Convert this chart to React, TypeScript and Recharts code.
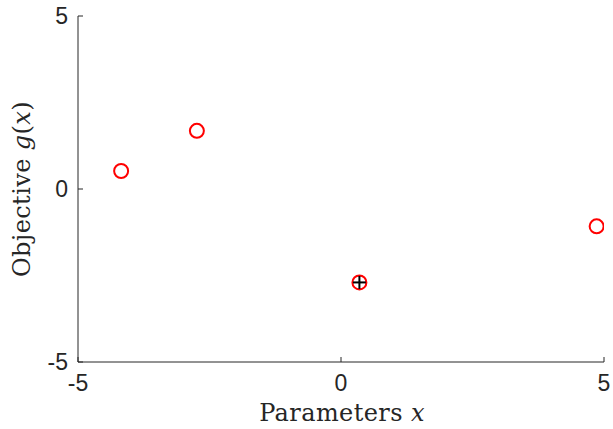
import { ScatterChart, Scatter, XAxis, YAxis } from "recharts";

// evaluated parameters and objective values
const paramX = [-4.18, -2.74, 0.35, 4.86];
const objectiveY = [0.52, 1.68, -2.7, -1.08];
// best observed point
const bestX = [0.35];
const bestY = [-2.7];
const xTicks = [-5, 0, 5];
const yTicks = [-5, 0, 5];

const samples = paramX.map((x, i) => ({ x, y: objectiveY[i] }));
const best = bestX.map((x, i) => ({ x, y: bestY[i] }));

const axisColor = "#262626";
const tickFont = { fontFamily: "Liberation Sans, Arial, sans-serif", fontSize: 23, fill: axisColor };
const labelFont = { fontFamily: "DejaVu Serif, serif", fontSize: 24, fill: axisColor, letterSpacing: 0.4 };

const RedCircle = (props: any) => {
  const { cx, cy } = props;
  return <circle cx={cx} cy={cy} r={7} fill="none" stroke="#ff0000" strokeWidth={2} />;
};

const PlusMark = (props: any) => {
  const { cx, cy } = props;
  const s = 6.5;
  return (
    <g stroke="#000" strokeWidth={2}>
      <line x1={cx - s} y1={cy} x2={cx + s} y2={cy} />
      <line x1={cx} y1={cy - s} x2={cx} y2={cy + s} />
    </g>
  );
};

export default function App() {
  return (
    <div style={{ position: "absolute", left: 0, top: 0, background: "#fff" }}>
      <ScatterChart width={613} height={429} margin={{ top: 16, right: 9, bottom: 0, left: 0 }}>
        <XAxis
          type="number"
          dataKey="x"
          domain={[-5, 5]}
          ticks={xTicks}
          height={67}
          stroke={axisColor}
          tickSize={-5}
          tickMargin={18}
          tick={tickFont}
          allowDataOverflow
        />
        <YAxis
          type="number"
          dataKey="y"
          domain={[-5, 5]}
          ticks={yTicks}
          width={78}
          stroke={axisColor}
          tickSize={-5}
          tickMargin={15}
          tick={tickFont}
          allowDataOverflow
        />
        <Scatter data={samples} shape={RedCircle} isAnimationActive={false} />
        <Scatter data={best} shape={PlusMark} isAnimationActive={false} />
        <text x={342} y={421} textAnchor="middle" style={labelFont}>
          Parameters <tspan fontStyle="italic">x</tspan>
        </text>
        <text x={30} y={189} textAnchor="middle" transform="rotate(-90 30 189)" style={labelFont}>
          Objective <tspan fontStyle="italic">g</tspan>(<tspan fontStyle="italic">x</tspan>)
        </text>
      </ScatterChart>
    </div>
  );
}
